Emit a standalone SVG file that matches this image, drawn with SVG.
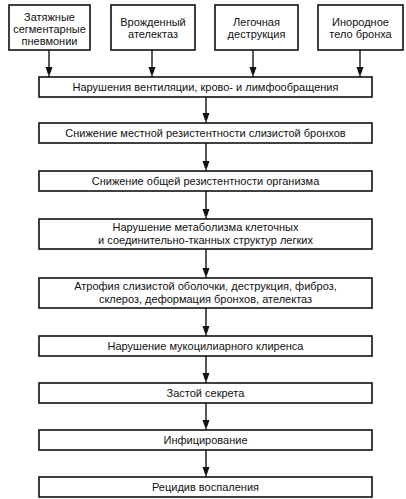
<svg xmlns="http://www.w3.org/2000/svg" width="406" height="499" viewBox="0 0 406 499">
<defs>
<marker id="ah" markerWidth="7" markerHeight="10" refX="10" refY="3.5" orient="auto" markerUnits="userSpaceOnUse">
<path d="M0,0 L10,3.5 L0,7 Z" fill="#111"/>
</marker>
<style>
.b{fill:#fff;stroke:#111;stroke-width:1.6}
.t{font-family:"Liberation Sans",Arial,sans-serif;font-size:11px;fill:#111;text-anchor:middle}
.c{stroke:#111;stroke-width:1.4;fill:none;marker-end:url(#ah)}
</style>
</defs>
<rect width="406" height="499" fill="#fff"/>
<g id="n1"><rect class="b" x="9" y="5" width="81" height="45"/><text class="t" x="49.5" y="21">Затяжные</text><text class="t" x="49.5" y="33">сегментарные</text><text class="t" x="49.5" y="45">пневмонии</text></g>
<g id="n2"><rect class="b" x="111" y="5" width="84" height="45"/><text class="t" x="153" y="25.5">Врожденный</text><text class="t" x="153" y="38">ателектаз</text></g>
<g id="n3"><rect class="b" x="215" y="5" width="83" height="45"/><text class="t" x="256.5" y="25.5">Легочная</text><text class="t" x="256.5" y="38">деструкция</text></g>
<g id="n4"><rect class="b" x="318" y="5" width="85" height="45"/><text class="t" x="360.5" y="25.5">Инородное</text><text class="t" x="360.5" y="38">тело бронха</text></g>
<g id="m1"><rect class="b" x="39" y="77" width="333" height="20"/><text class="t" x="205.5" y="91">Нарушения вентиляции, крово- и лимфообращения</text></g>
<g id="m2"><rect class="b" x="39" y="123" width="333" height="20"/><text class="t" x="205.5" y="137">Снижение местной резистентности слизистой бронхов</text></g>
<g id="m3"><rect class="b" x="39" y="171" width="333" height="20"/><text class="t" x="205.5" y="185">Снижение общей резистентности организма</text></g>
<g id="m4"><rect class="b" x="39" y="219" width="333" height="30"/><text class="t" x="205.5" y="231">Нарушение метаболизма клеточных</text><text class="t" x="205.5" y="244">и соединительно-тканных структур легких</text></g>
<g id="m5"><rect class="b" x="39" y="278" width="333" height="30"/><text class="t" x="205.5" y="290">Атрофия слизистой оболочки, деструкция, фиброз,</text><text class="t" x="205.5" y="303">склероз, деформация бронхов, ателектаз</text></g>
<g id="m6"><rect class="b" x="39" y="336" width="333" height="20"/><text class="t" x="205.5" y="350">Нарушение мукоцилиарного клиренса</text></g>
<g id="m7"><rect class="b" x="39" y="383" width="333" height="20"/><text class="t" x="205.5" y="397">Застой секрета</text></g>
<g id="m8"><rect class="b" x="39" y="430" width="333" height="20"/><text class="t" x="205.5" y="444">Инфицирование</text></g>
<g id="m9"><rect class="b" x="39" y="477" width="333" height="20"/><text class="t" x="205.5" y="491">Рецидив воспаления</text></g>
<g id="connectors">
<line class="c" x1="49" y1="50" x2="49" y2="77"/>
<line class="c" x1="152" y1="50" x2="152" y2="77"/>
<line class="c" x1="253" y1="50" x2="253" y2="77"/>
<line class="c" x1="360" y1="50" x2="360" y2="77"/>
<line class="c" x1="206" y1="97" x2="206" y2="123"/>
<line class="c" x1="206" y1="143" x2="206" y2="171"/>
<line class="c" x1="206" y1="191" x2="206" y2="219"/>
<line class="c" x1="206" y1="249" x2="206" y2="278"/>
<line class="c" x1="206" y1="308" x2="206" y2="336"/>
<line class="c" x1="206" y1="356" x2="206" y2="383"/>
<line class="c" x1="206" y1="403" x2="206" y2="430"/>
<line class="c" x1="206" y1="450" x2="206" y2="477"/>
</g>
</svg>
